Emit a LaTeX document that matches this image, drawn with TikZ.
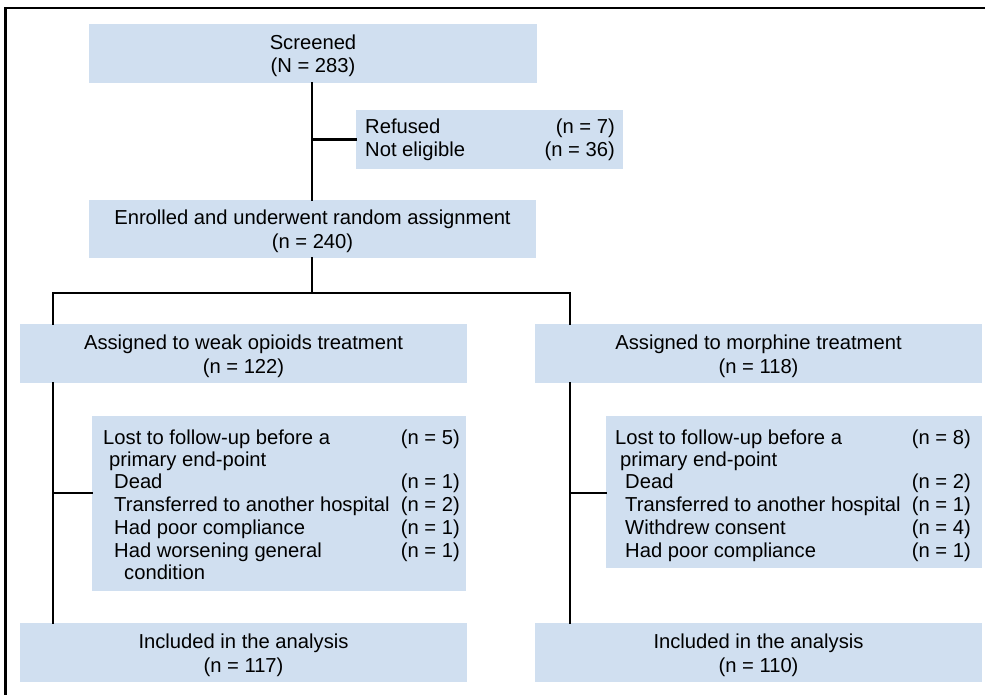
\documentclass[tikz,border=0pt]{standalone}
\usepackage{fontspec}
\setmainfont{Liberation Sans}
\definecolor{boxblue}{RGB}{208,223,240}
\begin{document}
\begin{tikzpicture}[x=1pt,y=-1pt,
  box/.style={fill=boxblue, draw=none, inner sep=0pt, outer sep=0pt, anchor=north west},
  conn/.style={line width=2.4pt, line cap=rect},
  txt/.style={font=\fontsize{20.2}{23.5}\selectfont, inner sep=0pt, text=black},
  ctxt/.style={txt, align=center},
  lt/.style={txt, anchor=base west},
  rt/.style={txt, anchor=base east}]
\useasboundingbox (0,0) rectangle (985,695);
% frame
\draw[line width=2.2pt] (5.5,700) -- (5.5,8) -- (990,8);
% boxes
\node[box, minimum width=448, minimum height=59] (screened) at (89,24) {};
\node[box, minimum width=267, minimum height=59] (refused) at (356,110) {};
\node[box, minimum width=447, minimum height=58] (enrolled) at (89,200) {};
\node[box, minimum width=447, minimum height=59] (weak) at (20,324) {};
\node[box, minimum width=447, minimum height=59] (morph) at (535,324) {};
\node[box, minimum width=374, minimum height=175] (lost1) at (92,416) {};
\node[box, minimum width=376, minimum height=152] (lost2) at (606,416) {};
\node[box, minimum width=447, minimum height=59] (incl1) at (20,623) {};
\node[box, minimum width=447, minimum height=59] (incl2) at (535,623) {};
% centered texts
\node[ctxt] (screenedT) at ([yshift=-2.5]screened.center) {Screened\\(N = 283)};
\node[ctxt] (enrolledT) at ([yshift=-2.5]enrolled.center) {Enrolled and underwent random assignment\\(n = 240)};
\node[ctxt] (weakT) at ([yshift=-3]weak.center) {Assigned to weak opioids treatment\\(n = 122)};
\node[ctxt] (morphT) at ([yshift=-3]morph.center) {Assigned to morphine treatment\\(n = 118)};
\node[ctxt] (incl1T) at ([yshift=-3]incl1.center) {Included in the analysis\\(n = 117)};
\node[ctxt] (incl2T) at ([yshift=-3]incl2.center) {Included in the analysis\\(n = 110)};
% refused texts
\node[lt] (rf1) at (365,134) {Refused};
\node[rt] (rf1n) at (615,134) {(n = 7)};
\node[lt] (rf2) at (365,157) {Not eligible};
\node[rt] (rf2n) at (615,157) {(n = 36)};
% left lost
\node[lt] (a1) at (103,444) {Lost to follow-up before a};
\node[rt] (a1n) at (460,444) {(n = 5)};
\node[lt] (a2) at (109,466) {primary end-point};
\node[lt] (a3) at (114,488) {Dead};
\node[rt] (a3n) at (460,488) {(n = 1)};
\node[lt] (a4) at (114,511) {Transferred to another hospital};
\node[rt] (a4n) at (460,511) {(n = 2)};
\node[lt] (a5) at (114,534) {Had poor compliance};
\node[rt] (a5n) at (460,534) {(n = 1)};
\node[lt] (a6) at (114,557) {Had worsening general};
\node[rt] (a6n) at (460,557) {(n = 1)};
\node[lt] (a7) at (124,579) {condition};
% right lost
\node[lt] (b1) at (615,444) {Lost to follow-up before a};
\node[rt] (b1n) at (971,444) {(n = 8)};
\node[lt] (b2) at (620,466) {primary end-point};
\node[lt] (b3) at (625,488) {Dead};
\node[rt] (b3n) at (971,488) {(n = 2)};
\node[lt] (b4) at (625,511) {Transferred to another hospital};
\node[rt] (b4n) at (971,511) {(n = 1)};
\node[lt] (b5) at (625,534) {Withdrew consent};
\node[rt] (b5n) at (971,534) {(n = 4)};
\node[lt] (b6) at (625,557) {Had poor compliance};
\node[rt] (b6n) at (971,557) {(n = 1)};
% connector coordinates
\coordinate (trunk) at (312,0);
\coordinate (bl) at (53,293);
\coordinate (br) at (570,293);
\coordinate (jl) at (53,493);
\coordinate (jr) at (570,493);
% connectors
\draw[conn] (screened.south -| trunk) -- (enrolled.north -| trunk);
\draw[conn] (refused.west -| trunk) -- (refused.west);
\draw[conn] (enrolled.south -| trunk) -- (bl -| trunk);
\draw[conn] (weak.north -| bl) -- (bl) -- (br) -- (morph.north -| br);
\draw[conn] (weak.south -| bl) -- (incl1.north -| bl);
\draw[conn] (morph.south -| br) -- (incl2.north -| br);
\draw[conn] (jl) -- (jl -| lost1.west);
\draw[conn] (jr) -- (jr -| lost2.west);
\end{tikzpicture}
\end{document}
